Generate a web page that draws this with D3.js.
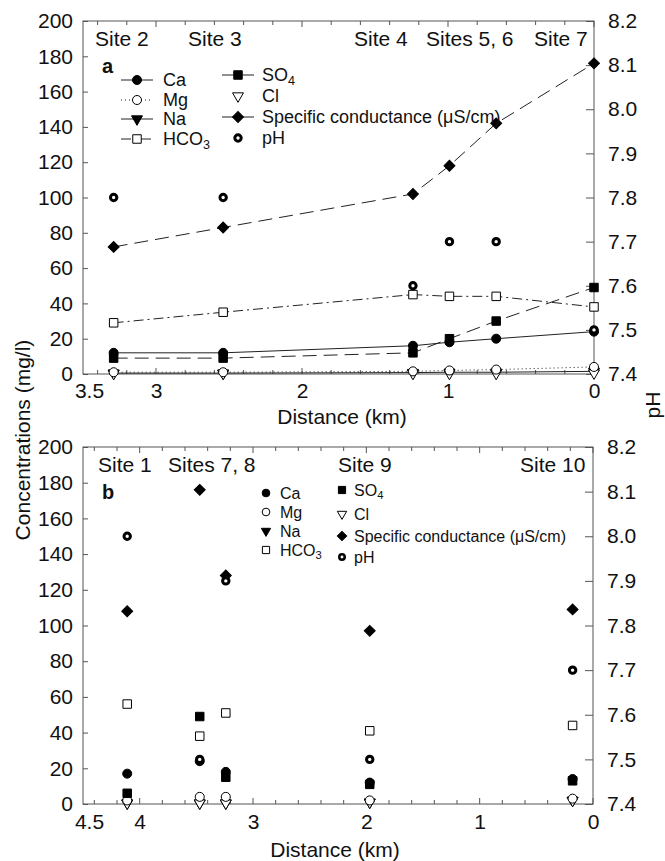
<!DOCTYPE html>
<html>
<head>
<meta charset="utf-8">
<script src="https://cdn.jsdelivr.net/npm/d3@7"></script>
<style>
  body { margin: 0; background: #fff; }
  text { font-family: "Liberation Sans", Arial, sans-serif; fill: #111; }
</style>
</head>
<body>
<svg width="665" height="861"></svg>
<script>

// panel a
var distA = [3.29, 2.54, 1.24, 0.99, 0.67, 0];
var caA   = [12, 12, 16, 18, 20, 24];
var mgA   = [1, 1, 1.5, 2, 2.5, 4];
var naA   = [0.5, 0.5, 0.8, 1, 1, 1.5];
var hco3A = [29, 35, 45, 44, 44, 38];
var so4A  = [9, 9, 12, 20, 30, 49];
var clA   = [0.3, 0.3, 0.3, 0.3, 0.3, 0.5];
var condA = [72, 83, 102, 118, 142, 176];
var phA   = [7.8, 7.8, 7.6, 7.7, 7.7, 7.5];
var sitesA = ["Site 2", "Site 3", "Site 4", "Sites 5, 6", "Site 7"];
var xTicksA = [3.5, 3, 2, 1, 0];

// panel b
var distB = [4.11, 3.47, 3.24, 1.97, 0.18];
var caB   = [17, 24, 18, 12, 14];
var mgB   = [2, 4, 4, 2, 3];
var naB   = [0.5, 0.5, 0.5, 1, 2];
var hco3B = [56, 38, 51, 41, 44];
var so4B  = [6, 49, 15, 11, 13];
var clB   = [0.5, 0.5, 0.5, 1, 2];
var condB = [108, 176, 128, 97, 109];
var phB   = [8.0, 7.5, 7.9, 7.5, 7.7];
var sitesB = ["Site 1", "Sites 7, 8", "Site 9", "Site 10"];
var xTicksB = [4.5, 4, 3, 2, 1, 0];

var concTicks = [0, 20, 40, 60, 80, 100, 120, 140, 160, 180, 200];
var phTicks = [7.4, 7.5, 7.6, 7.7, 7.8, 7.9, 8.0, 8.1, 8.2];

var svg = d3.select('svg');
var frameColor = '#555';
var fs = 21;

// marker / line styles per series
var styles = {
	ca:   { sym: d3.symbolCircle,   size: 64, fill: '#000', dash: null },
	mg:   { sym: d3.symbolCircle,   size: 64, fill: '#fff', dash: '1,3' },
	na:   { sym: d3.symbolTriangle, size: 52, fill: '#000', dash: null, rot: 180 },
	hco3: { sym: d3.symbolSquare,   size: 72, fill: '#fff', dash: '10,4,2,4' },
	so4:  { sym: d3.symbolSquare,   size: 72, fill: '#000', dash: '14,7' },
	cl:   { sym: d3.symbolTriangle, size: 52, fill: '#fff', dash: 'none', rot: 180 },
	cond: { sym: d3.symbolSquare,   size: 60, fill: '#000', dash: '14,7', rot: 45 },
	ph:   { ph: true, dash: 'none' }
};

function drawMarker(g, key, x, y, scale) {
	var s = styles[key];
	scale = scale || 1;
	if (s.ph) {
		g.append('circle')
			.attr('cx', x).attr('cy', y)
			.attr('r', 3.2 * scale)
			.attr('fill', '#fff')
			.attr('stroke', '#000')
			.attr('stroke-width', 3 * scale);
		return;
	}
	g.append('path')
		.attr('d', d3.symbol().type(s.sym).size(s.size * scale * scale)())
		.attr('transform', 'translate(' + x + ',' + y + ') rotate(' + (s.rot || 0) + ')')
		.attr('fill', s.fill)
		.attr('stroke', '#000')
		.attr('stroke-width', 1);
}

function labelWithSub(sel, label) {
	// SO4 / HCO3 get a subscript digit
	var m = label.match(/^(SO|HCO)(\d)$/);
	if (m) {
		sel.append('tspan').text(m[1]);
		sel.append('tspan').text(m[2])
			.attr('font-size', '0.7em')
			.attr('dy', '0.3em');
	} else {
		sel.text(label);
	}
}

function panel(cfg) {
	var g = svg.append('g');
	var x = d3.scaleLinear().domain(cfg.xDomain).range([83, cfg.right]);
	var y = d3.scaleLinear().domain([0, 200]).range([cfg.bottom, cfg.top]);
	var yR = d3.scaleLinear().domain([7.4, 8.2]).range([cfg.bottom, cfg.top]);

	// frame
	g.append('rect')
		.attr('x', 83).attr('y', cfg.top)
		.attr('width', cfg.right - 83).attr('height', cfg.bottom - cfg.top)
		.attr('fill', 'none')
		.attr('stroke', frameColor)
		.attr('stroke-width', 1);

	var minor = d3.range(0, cfg.xDomain[0] + 0.001, 0.2).map(function(d){ return Math.round(d * 10) / 10; });

	var ax = g.append('g').attr('transform', 'translate(0,' + cfg.bottom + ')')
		.call(d3.axisBottom(x).tickValues(cfg.xTicks)
			.tickFormat(function(d){ return d % 1 === 0 ? d : d3.format('.1f')(d); })
			.tickSizeInner(0).tickSizeOuter(0).tickPadding(cfg.xPad));
	ax.select('.domain').remove();
	ax.selectAll('text').attr('font-size', fs)
		.attr('dx', function(d){ return d === cfg.xDomain[0] ? 6 : 0; });
	ax.selectAll('line').remove();

	[[cfg.bottom, -1], [cfg.top, 1]].forEach(function(p){
		g.selectAll(null).data(minor).enter().append('line')
			.attr('x1', function(d){ return x(d); }).attr('x2', function(d){ return x(d); })
			.attr('y1', p[0])
			.attr('y2', function(d){ return p[0] + p[1] * (d % 1 === 0 ? 6 : 4); })
			.attr('stroke', frameColor);
	});

	var ay = g.append('g').attr('transform', 'translate(83,0)')
		.call(d3.axisLeft(y).tickValues(concTicks).tickSizeInner(-5).tickSizeOuter(0).tickPadding(10));
	ay.select('.domain').remove();
	ay.selectAll('text').attr('font-size', fs);
	ay.selectAll('line').attr('stroke', frameColor);

	var ar = g.append('g').attr('transform', 'translate(' + cfg.right + ',0)')
		.call(d3.axisRight(yR).tickValues(phTicks).tickFormat(d3.format('.1f'))
			.tickSizeInner(-5).tickSizeOuter(0).tickPadding(14));
	ar.select('.domain').remove();
	ar.selectAll('text').attr('font-size', fs);
	ar.selectAll('line').attr('stroke', frameColor).attr('x2', -8);

	var series = cfg.series;
	var keys = ['na', 'cl', 'mg', 'ca', 'so4', 'hco3', 'cond', 'ph'];

	if (cfg.lines) {
		keys.forEach(function(k){
			var s = styles[k];
			if (s.dash === 'none') return;
			var line = d3.line()
				.x(function(d, i){ return x(cfg.dist[i]); })
				.y(function(d){ return y(d); });
			g.append('path')
				.attr('d', line(series[k]))
				.attr('fill', 'none')
				.attr('stroke', '#222')
				.attr('stroke-width', 1)
				.attr('stroke-dasharray', s.dash);
		});
	}

	keys.forEach(function(k){
		series[k].forEach(function(v, i){
			var yy = k === 'ph' ? yR(v) : y(v);
			drawMarker(g, k, x(cfg.dist[i]), yy, cfg.markerScale);
		});
	});

	// site labels
	cfg.siteLabels.forEach(function(t, i){
		g.append('text')
			.attr('x', cfg.sitePos[i])
			.attr('y', cfg.top + 25)
			.attr('font-size', fs)
			.text(t);
	});

	g.append('text')
		.attr('x', 102).attr('y', cfg.top + 52)
		.attr('font-size', 20).attr('font-weight', 'bold')
		.text(cfg.letter);

	// legend
	var lg = cfg.legend;
	lg.items.forEach(function(it){
		var s = styles[it.key];
		if (cfg.lines && s.dash !== 'none') {
			g.append('line')
				.attr('x1', it.sx - 16).attr('x2', it.sx + 16)
				.attr('y1', it.y).attr('y2', it.y)
				.attr('stroke', '#222')
				.attr('stroke-dasharray', (it.key === 'so4' || it.key === 'cond') ? null : s.dash);
		}
		drawMarker(g, it.key, it.sx, it.y, lg.markerScale);
		var t = g.append('text')
			.attr('x', it.tx).attr('y', it.y)
			.attr('dy', '0.36em')
			.attr('font-size', lg.fontSize);
		labelWithSub(t, it.label);
	});

	g.append('text')
		.attr('x', cfg.xTitleX).attr('y', cfg.xTitleY)
		.attr('text-anchor', 'middle')
		.attr('font-size', fs)
		.text('Distance (km)');
}

panel({
	xDomain: [3.5, 0], right: 594, top: 21, bottom: 374, xPad: 9,
	xTicks: xTicksA,
	dist: distA,
	series: { ca: caA, mg: mgA, na: naA, hco3: hco3A, so4: so4A, cl: clA, cond: condA, ph: phA },
	lines: true, markerScale: 1,
	siteLabels: sitesA, sitePos: [95, 188, 354, 426, 534],
	letter: 'a',
	legend: {
		fontSize: 18, markerScale: 1,
		items: [
			{ key: 'ca', label: 'Ca', sx: 137, tx: 163, y: 80 },
			{ key: 'mg', label: 'Mg', sx: 137, tx: 163, y: 100 },
			{ key: 'na', label: 'Na', sx: 137, tx: 163, y: 119 },
			{ key: 'hco3', label: 'HCO3', sx: 137, tx: 163, y: 139 },
			{ key: 'so4', label: 'SO4', sx: 238, tx: 262, y: 75 },
			{ key: 'cl', label: 'Cl', sx: 238, tx: 262, y: 96 },
			{ key: 'cond', label: 'Specific conductance (\u03bcS/cm)', sx: 238, tx: 262, y: 117 },
			{ key: 'ph', label: 'pH', sx: 238, tx: 262, y: 138 }
		]
	},
	xTitleX: 342, xTitleY: 424
});

panel({
	xDomain: [4.5, 0], right: 593, top: 447, bottom: 804, xPad: 10,
	xTicks: xTicksB,
	dist: distB,
	series: { ca: caB, mg: mgB, na: naB, hco3: hco3B, so4: so4B, cl: clB, cond: condB, ph: phB },
	lines: false, markerScale: 1,
	siteLabels: sitesB, sitePos: [98, 168, 338, 520],
	letter: 'b',
	legend: {
		fontSize: 16, markerScale: 0.85,
		items: [
			{ key: 'ca', label: 'Ca', sx: 266, tx: 280, y: 493 },
			{ key: 'mg', label: 'Mg', sx: 266, tx: 280, y: 512 },
			{ key: 'na', label: 'Na', sx: 266, tx: 280, y: 531 },
			{ key: 'hco3', label: 'HCO3', sx: 266, tx: 280, y: 550 },
			{ key: 'so4', label: 'SO4', sx: 342, tx: 354, y: 490 },
			{ key: 'cl', label: 'Cl', sx: 342, tx: 354, y: 514 },
			{ key: 'cond', label: 'Specific conductance (\u03bcS/cm)', sx: 342, tx: 354, y: 536 },
			{ key: 'ph', label: 'pH', sx: 342, tx: 354, y: 557 }
		]
	},
	xTitleX: 335, xTitleY: 857
});

// shared axis titles
svg.append('text')
	.attr('transform', 'translate(30,440) rotate(-90)')
	.attr('text-anchor', 'middle')
	.attr('font-size', fs)
	.text('Concentrations (mg/l)');

svg.append('text')
	.attr('transform', 'translate(660,405) rotate(-90)')
	.attr('text-anchor', 'middle')
	.attr('font-size', fs)
	.text('pH');

</script>
</body>
</html>
